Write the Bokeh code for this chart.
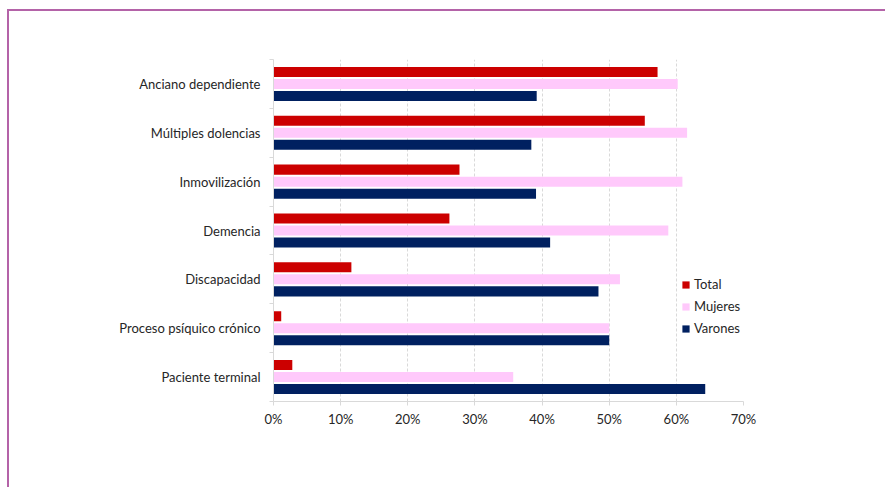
from bokeh.plotting import figure
from bokeh.models import FixedTicker, Range1d, Legend, LegendItem, ColumnDataSource
from bokeh.embed import file_html
from bokeh.resources import INLINE

categories = ["Anciano dependiente", "Múltiples dolencias", "Inmovilización",
              "Demencia", "Discapacidad", "Proceso psíquico crónico", "Paciente terminal"]
total = [57.2, 55.3, 27.7, 26.2, 11.6, 1.15, 2.8]
mujeres = [60.2, 61.6, 60.9, 58.8, 51.6, 50.0, 35.7]
varones = [39.2, 38.4, 39.1, 41.2, 48.4, 50.0, 64.3]
series_names = ["Total", "Mujeres", "Varones"]
series_colors = ["#cc0000", "#ffc9fb", "#002060"]
x_ticks = [0, 10, 20, 30, 40, 50, 60, 70]
x_tick_labels = ["0%", "10%", "20%", "30%", "40%", "50%", "60%", "70%"]

FONT = "Lato"
TEXT_COLOR = "#262626"
n = len(categories)
centers = [n - i - 0.5 for i in range(n)]
offsets = [0.246, 0.0, -0.246]
bar_h = 0.205

p = figure(width=878, height=478, output_backend="svg", toolbar_location=None,
           x_range=Range1d(0, 70), y_range=Range1d(0, n),
           min_border_left=264, min_border_top=48, min_border_right=144, min_border_bottom=88)
p.outline_line_color = None
p.background_fill_color = "white"
p.border_fill_color = "white"
p.margin = (9, 0, 0, 7)
p.styles = {"border-top": "2px solid #b463a8", "border-left": "2px solid #b463a8"}

items = []
for name, color, vals, off in zip(series_names, series_colors, [total, mujeres, varones], offsets):
    src = ColumnDataSource(dict(y=[c + off for c in centers], right=vals, left=[0] * n))
    r = p.hbar(y="y", left="left", right="right", height=bar_h, source=src,
               fill_color=color, line_color=None)
    items.append(LegendItem(label=name, renderers=[r]))

# x axis
p.xaxis.ticker = FixedTicker(ticks=x_ticks, minor_ticks=[])
p.xaxis.major_label_overrides = {t: l for t, l in zip(x_ticks, x_tick_labels)}
p.xaxis.axis_line_color = "#d9d9d9"
p.xaxis.major_tick_line_color = "#d9d9d9"
p.xaxis.major_tick_out = 4
p.xaxis.major_tick_in = 0
p.xaxis.major_label_standoff = 5
p.xaxis.major_label_text_font = FONT
p.xaxis.major_label_text_font_size = "13px"
p.xaxis.major_label_text_color = TEXT_COLOR

# y axis
p.yaxis.ticker = FixedTicker(ticks=centers, minor_ticks=list(range(n + 1)))
p.yaxis.major_label_overrides = {c: cat for c, cat in zip(centers, categories)}
p.yaxis.axis_line_color = "#d9d9d9"
p.yaxis.major_tick_line_color = None
p.yaxis.major_tick_out = 0
p.yaxis.major_tick_in = 0
p.yaxis.minor_tick_line_color = "#d9d9d9"
p.yaxis.minor_tick_out = 4
p.yaxis.minor_tick_in = 0
p.yaxis.major_label_standoff = 9
p.yaxis.major_label_text_font = FONT
p.yaxis.major_label_text_font_size = "13px"
p.yaxis.major_label_text_color = TEXT_COLOR

p.xgrid.grid_line_color = "#d9d9d9"
p.xgrid.grid_line_dash = "3 2"
p.ygrid.visible = False

legend = Legend(items=items, location=(408, 65))
legend.background_fill_color = "white"
legend.background_fill_alpha = 1
legend.border_line_color = None
legend.label_text_font = FONT
legend.label_text_font_size = "13px"
legend.label_text_color = TEXT_COLOR
legend.glyph_width = 9
legend.glyph_height = 9
legend.label_height = 16
legend.label_standoff = 4
legend.spacing = 6
legend.padding = 8
legend.margin = 0
p.add_layout(legend)

open("out.html", "w").write(file_html(p, INLINE))
